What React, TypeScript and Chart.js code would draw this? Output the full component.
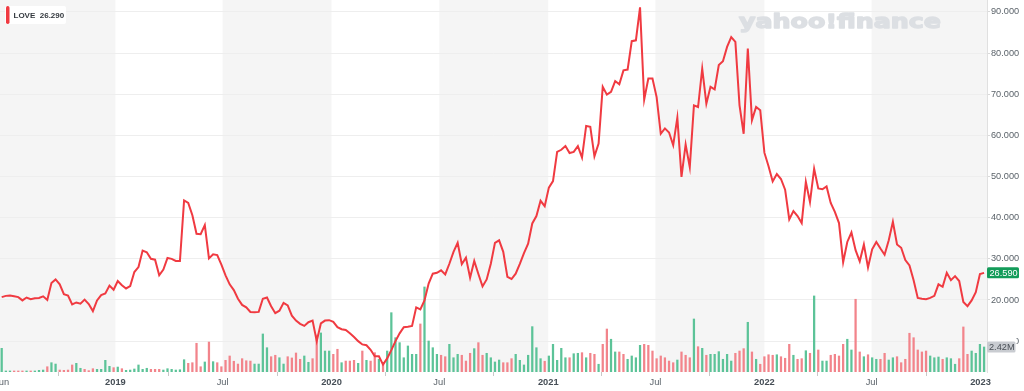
import React, { useEffect, useRef } from 'react';
import { Chart, registerables } from 'chart.js';

Chart.register(...registerables);

// ---------------- data ----------------
const TICKER = 'LOVE';
const LEGEND_PRICE = 26.29;
const FIRST_WEEK = '2018-06-23';

// weekly closing prices (USD)
const closes: number[] = [
  20.7, 21.0, 21.1, 20.9, 20.7, 19.9, 20.6, 20.2, 20.4, 20.5,
  20.9, 20.0, 24.1, 25.0, 23.8, 21.4, 21.1, 18.9, 19.4, 19.1,
  20.1, 19.0, 17.3, 19.9, 21.2, 21.6, 23.5, 22.5, 24.6, 23.6,
  22.8, 23.4, 26.8, 28.0, 32.0, 31.6, 30.0, 29.8, 26.0, 27.4,
  30.2, 30.0, 29.5, 29.5, 44.2, 43.6, 40.6, 36.1, 36.0, 38.2,
  30.1, 31.1, 30.9, 28.6, 26.0, 23.8, 22.4, 20.3, 18.8, 18.2,
  17.1, 17.0, 17.1, 20.3, 20.6, 18.5, 16.8, 17.4, 19.3, 18.7,
  16.2, 15.0, 14.2, 13.7, 14.6, 15.0, 10.0, 14.3, 15.0, 15.1,
  14.7, 13.4, 12.9, 12.7, 11.9, 11.0, 10.0, 9.2, 9.0, 7.9,
  6.3, 6.3, 4.3, 5.8, 7.8, 10.0, 11.9, 13.4, 13.5, 13.7,
  18.2, 17.7, 19.9, 24.0, 26.4, 26.6, 27.2, 26.2, 28.8, 31.7,
  33.9, 28.7, 30.3, 25.4, 29.5, 26.3, 23.3, 25.0, 28.8, 33.9,
  34.5, 31.7, 25.6, 25.1, 26.4, 28.8, 31.4, 33.7, 38.6, 40.4,
  44.1, 42.8, 47.3, 48.9, 56.0, 56.5, 57.4, 55.7, 56.0, 57.4,
  54.6, 62.3, 62.1, 54.9, 58.0, 71.8, 69.9, 70.6, 73.2, 72.4,
  75.8, 76.0, 82.9, 83.1, 91.1, 68.7, 73.8, 73.8, 69.3, 60.4,
  61.7, 60.7, 57.6, 64.3, 49.9, 57.8, 52.3, 67.3, 66.9, 76.2,
  67.7, 71.8, 71.2, 77.1, 78.0, 81.5, 83.9, 82.7, 67.3, 60.4,
  81.1, 63.7, 66.9, 66.1, 55.8, 52.5, 48.8, 50.6, 49.4, 46.8,
  39.6, 41.6, 40.4, 38.7, 48.7, 43.8, 51.9, 47.1, 46.9, 47.6,
  43.6, 41.4, 38.7, 29.2, 34.1, 36.4, 32.1, 29.4, 33.5, 27.9,
  32.3, 34.1, 32.5, 31.0, 34.5, 39.0, 33.5, 32.7, 29.7, 28.4,
  24.8, 20.5, 20.3, 20.2, 20.5, 21.0, 23.8, 23.2, 26.6, 24.8,
  25.8, 24.6, 19.5, 18.5, 19.9, 21.9, 26.3, 26.59,
];

// weekly volume (millions of shares)
const volumesM: number[] = [
  2.29, 0.10, 0.10, 0.10, 0.10, 0.10, 0.10, 0.10, 0.10, 0.16,
  0.19, 0.51, 0.90, 0.77, 0.19, 0.16, 0.19, 0.68, 0.84, 0.36,
  0.26, 0.13, 0.32, 0.26, 0.26, 1.13, 0.55, 0.42, 0.48, 0.32,
  0.16, 0.19, 0.29, 0.68, 0.26, 0.36, 0.26, 0.26, 0.26, 0.19,
  0.32, 0.26, 0.19, 0.22, 1.19, 0.84, 0.90, 2.78, 0.51, 0.97,
  2.90, 1.00, 0.90, 0.51, 1.13, 1.55, 1.04, 0.77, 1.29, 1.09,
  1.06, 0.77, 0.77, 3.68, 2.35, 1.48, 1.62, 1.38, 0.77, 1.48,
  1.36, 1.84, 1.23, 1.55, 0.94, 1.29, 3.58, 3.78, 2.03, 2.03,
  1.71, 2.20, 0.90, 1.06, 1.06, 1.13, 0.84, 2.03, 1.13, 1.06,
  1.87, 1.23, 0.90, 2.03, 5.74, 3.32, 2.84, 1.38, 2.52, 1.71,
  1.71, 4.65, 8.23, 3.00, 2.35, 1.71, 1.62, 1.48, 2.68, 1.38,
  1.71, 1.62, 1.06, 1.81, 2.26, 2.84, 1.62, 1.81, 1.38, 0.97,
  1.16, 0.90, 0.90, 1.29, 1.71, 1.13, 0.68, 1.62, 4.39, 2.35,
  1.29, 1.04, 1.55, 2.68, 1.13, 2.29, 1.38, 1.38, 1.77, 1.81,
  1.87, 1.38, 1.81, 1.71, 0.75, 2.68, 4.16, 3.17, 1.94, 1.94,
  1.71, 1.23, 1.55, 1.38, 2.58, 2.68, 2.58, 2.03, 1.29, 1.55,
  1.38, 1.06, 0.90, 1.16, 1.94, 1.62, 1.38, 5.13, 2.45, 2.29,
  1.62, 1.71, 1.71, 1.97, 1.23, 1.71, 1.06, 1.81, 2.03, 2.26,
  4.81, 1.94, 1.23, 0.75, 1.48, 1.67, 1.62, 1.67, 1.48, 1.33,
  2.68, 1.62, 1.23, 1.29, 2.06, 1.81, 7.36, 2.13, 1.06, 1.06,
  1.62, 1.71, 1.55, 2.68, 3.17, 2.13, 7.04, 1.94, 1.48, 1.67,
  1.38, 1.23, 1.23, 1.81, 1.16, 1.38, 1.48, 0.90, 1.23, 3.75,
  3.32, 2.13, 1.94, 2.03, 1.55, 1.38, 1.45, 1.23, 1.38, 1.29,
  0.75, 1.29, 4.36, 1.71, 2.03, 1.81, 2.68, 2.42,
];

// 1 = week closed up (green volume), 0 = down (red volume)
const volumeUp: number[] = [
  1, 1, 1, 0, 0, 0, 1, 0, 1, 1,
  1, 0, 1, 1, 0, 0, 0, 0, 1, 1,
  0, 0, 0, 1, 1, 1, 1, 0, 1, 0,
  1, 1, 1, 1, 1, 1, 0, 0, 0, 1,
  1, 1, 1, 1, 1, 0, 0, 0, 0, 1,
  0, 1, 0, 0, 0, 0, 0, 0, 0, 0,
  0, 1, 1, 1, 1, 0, 0, 1, 1, 0,
  0, 0, 0, 1, 1, 0, 0, 1, 1, 1,
  0, 0, 1, 0, 0, 0, 1, 0, 1, 0,
  0, 1, 0, 1, 1, 1, 1, 1, 1, 1,
  1, 0, 1, 1, 1, 1, 0, 0, 1, 1,
  1, 0, 0, 0, 1, 0, 0, 1, 1, 1,
  1, 0, 0, 0, 1, 1, 1, 1, 1, 1,
  1, 0, 1, 1, 1, 1, 1, 0, 1, 1,
  0, 1, 0, 0, 1, 0, 0, 1, 1, 0,
  0, 1, 1, 1, 1, 0, 0, 0, 0, 0,
  0, 0, 0, 1, 0, 0, 0, 1, 0, 1,
  0, 1, 1, 1, 1, 1, 1, 0, 0, 0,
  1, 0, 1, 0, 0, 0, 0, 1, 0, 0,
  0, 1, 0, 0, 1, 0, 1, 0, 1, 1,
  0, 0, 0, 0, 1, 1, 0, 0, 1, 0,
  1, 1, 0, 0, 1, 1, 0, 0, 0, 0,
  0, 0, 0, 0, 1, 1, 1, 0, 1, 1,
  1, 0, 0, 0, 1, 1, 1, 1,
];

const tickDates = [
  '2018-06-23', '2019-01-01', '2019-07-01', '2020-01-01', '2020-07-01',
  '2021-01-01', '2021-07-01', '2022-01-01', '2022-07-01', '2023-01-01',
];
const tickLabels = ['Jun', '2019', 'Jul', '2020', 'Jul', '2021', 'Jul', '2022', 'Jul', '2023'];
const priceTicks = [10, 20, 30, 40, 50, 60, 70, 80, 90];

// ---------------- helpers ----------------
const DAY_MS = 86400000;
const toDay = (s: string) => {
  const [y, m, d] = s.split('-').map(Number);
  return Date.UTC(y, m - 1, d) / DAY_MS;
};
const startDay = toDay(FIRST_WEEK);
const weekDays = closes.map((_, i) => startDay + 7 * i);

const LINE_RED = '#f03a41';
const UP_GREEN = '#5cc398';
const DOWN_RED = '#f2848b';
const FONT = '"Liberation Sans", "Helvetica Neue", Arial, sans-serif';

const bandPlugin = {
  id: 'bands',
  beforeDraw(chart: any) {
    const { ctx, chartArea: a, scales } = chart;
    const x = scales.x;
    ctx.save();
    ctx.fillStyle = '#f5f5f5';
    for (let j = 0; j < tickDates.length; j += 2) {
      const l = j === 0 ? a.left : x.getPixelForValue(toDay(tickDates[j]));
      const r = j + 1 < tickDates.length - 1 ? x.getPixelForValue(toDay(tickDates[j + 1])) : a.right;
      ctx.fillRect(l, a.top, r - l, a.bottom - a.top);
    }
    ctx.restore();
  },
};

const watermarkPlugin = {
  id: 'watermark',
  beforeDatasetsDraw(chart: any) {
    const { ctx } = chart;
    ctx.save();
    ctx.font = `bold 19px "DejaVu Sans", ${FONT}`;
    const text = 'yahoo!finance';
    const w = ctx.measureText(text).width;
    const target = 202;
    ctx.translate(739, 28);
    ctx.scale(target / w, 1.05);
    ctx.fillStyle = '#dcdfe3';
    ctx.strokeStyle = '#dcdfe3';
    ctx.lineWidth = 1.3;
    ctx.lineJoin = 'round';
    ctx.textBaseline = 'alphabetic';
    ctx.strokeText(text, 0, 0);
    ctx.fillText(text, 0, 0);
    ctx.restore();
  },
};

const overlayPlugin = {
  id: 'overlay',
  afterDraw(chart: any) {
    const { ctx, chartArea: a, scales } = chart;
    ctx.save();
    // legend chip
    ctx.fillStyle = '#ffffff';
    ctx.beginPath();
    ctx.roundRect(5, 6, 61, 18, 2);
    ctx.fill();
    ctx.fillStyle = LINE_RED;
    ctx.beginPath();
    ctx.roundRect(6, 6, 3.5, 18, 1.7);
    ctx.fill();
    ctx.fillStyle = '#34393f';
    ctx.font = `bold 8px ${FONT}`;
    ctx.textBaseline = 'middle';
    ctx.textAlign = 'left';
    ctx.fillText(`${TICKER}  ${LEGEND_PRICE.toFixed(3)}`, 13.5, 15.5);

    // last price label
    const last = closes.length - 1;
    const py = scales.y.getPixelForValue(closes[last]);
    ctx.fillStyle = '#139c5a';
    ctx.beginPath();
    ctx.roundRect(a.right, py - 5.5, 32, 11, 1.5);
    ctx.fill();
    ctx.fillStyle = '#ffffff';
    ctx.font = `9.2px ${FONT}`;
    ctx.fillText(closes[last].toFixed(3), a.right + 2.5, py + 0.5);

    // last volume label (covers the lowest price label, as in the source)
    const vy = scales.yVol.getPixelForValue(volumesM[last]);
    ctx.fillStyle = '#ffffff';
    ctx.fillRect(a.right + 1, vy - 12, 28.5, 12);
    ctx.fillStyle = '#c9ccd1';
    ctx.beginPath();
    ctx.roundRect(a.right, vy - 5.5, 28.5, 11, 1.5);
    ctx.fill();
    ctx.fillStyle = '#4a4f56';
    ctx.fillText(volumesM[last].toFixed(2) + 'M', a.right + 2, vy + 0.5);
    ctx.restore();
  },
};

export default function App() {
  const ref = useRef<HTMLCanvasElement>(null);

  useEffect(() => {
    const canvas = ref.current;
    if (!canvas) return;
    const xMin = startDay - 2.87;
    const xMax = xMin + 1666.8;
    const chart = new Chart(canvas, {
      type: 'line',
      data: {
        datasets: [
          {
            type: 'line',
            label: TICKER,
            data: closes.map((v, i) => ({ x: weekDays[i], y: v })),
            borderColor: LINE_RED,
            borderWidth: 2,
            pointRadius: 0,
            tension: 0,
            yAxisID: 'y',
            order: 0,
          },
          {
            type: 'bar',
            label: 'Volume',
            data: volumesM.map((v, i) => ({ x: weekDays[i], y: v })),
            backgroundColor: volumeUp.map((u) => (u ? UP_GREEN : DOWN_RED)),
            barThickness: 1.6,
            yAxisID: 'yVol',
            order: 1,
          } as any,
        ],
      },
      options: {
        responsive: false,
        devicePixelRatio: 1,
        animation: false,
        layout: { padding: 0 },
        plugins: { legend: { display: false }, tooltip: { enabled: false } },
        scales: {
          x: {
            type: 'linear',
            min: xMin,
            max: xMax,
            offset: false,
            afterBuildTicks: (scale: any) => {
              scale.ticks = tickDates.map((d) => ({ value: toDay(d) }));
            },
            afterFit: (scale: any) => {
              scale.paddingLeft = 0;
              scale.paddingRight = 0;
              scale.height = 19;
            },
            grid: {
              drawOnChartArea: false,
              drawTicks: true,
              tickLength: 4,
              tickColor: '#c8c8c8',
            },
            border: { display: false },
            ticks: {
              autoSkip: false,
              maxRotation: 0,
              minRotation: 0,
              padding: 1,
              callback: (_v: any, i: number) => tickLabels[i],
              font: (ctx: any) => {
                const lbl = tickLabels[ctx.index];
                const bold = lbl && /^\d{4}$/.test(lbl);
                return { family: FONT, size: 9.3, weight: bold ? 'bold' : 'normal' };
              },
              color: (ctx: any) => {
                const lbl = tickLabels[ctx.index];
                return lbl && /^\d{4}$/.test(lbl) ? '#464e56' : '#5b636a';
              },
            },
          },
          y: {
            type: 'linear',
            position: 'right',
            min: 2.5,
            max: 92.9,
            afterBuildTicks: (scale: any) => {
              scale.ticks = priceTicks.map((v) => ({ value: v }));
            },
            afterFit: (scale: any) => {
              scale.width = 37;
              scale.paddingTop = 0;
              scale.paddingBottom = 0;
            },
            grid: {
              color: '#eeeeee',
              drawTicks: true,
              tickLength: 3,
              tickColor: '#d9d9d9',
            },
            border: { display: true, color: '#e0e0e0' },
            ticks: {
              padding: 1,
              color: '#5b636a',
              font: { family: FONT, size: 9.2 },
              callback: (v: any) => Number(v).toFixed(3),
            },
          },
          yVol: {
            type: 'linear',
            display: false,
            min: 0,
            max: 36,
          },
        },
      },
      plugins: [bandPlugin, watermarkPlugin, overlayPlugin],
    } as any);
    return () => chart.destroy();
  }, []);

  return (
    <div style={{ position: 'absolute', left: 0, top: 0, width: 1024, height: 391, background: '#ffffff' }}>
      <canvas ref={ref} width={1024} height={391} style={{ display: 'block', width: 1024, height: 391 }} />
    </div>
  );
}
